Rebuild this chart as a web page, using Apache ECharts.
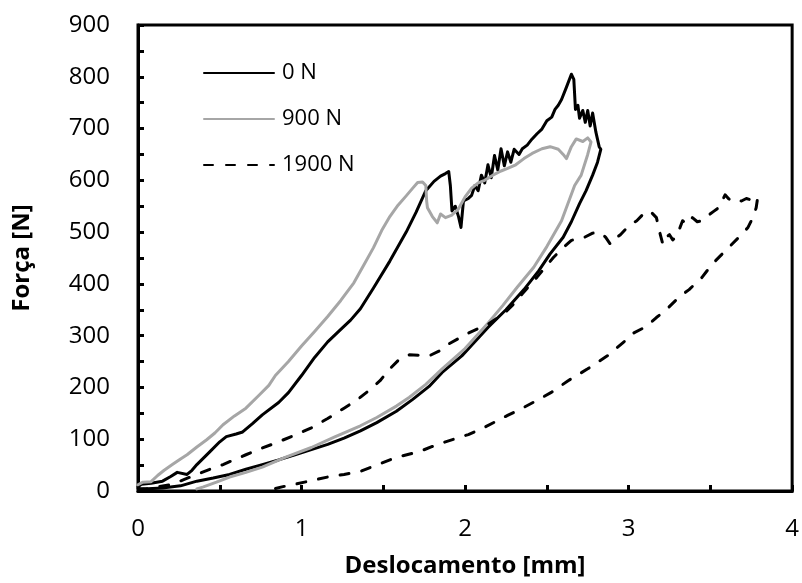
<!DOCTYPE html>
<html>
<head>
<meta charset="utf-8">
<script src="https://cdn.jsdelivr.net/npm/echarts@6/dist/echarts.min.js"></script>
<style>html,body{margin:0;padding:0;background:#fff}#c{width:802px;height:583px}</style>
</head>
<body>
<div id="c"></div>
<script>
// Series names
const seriesNames = ['0 N', '900 N', '1900 N'];
// Axis ticks
const xTicks = [0, 1, 2, 3, 4];
const yTicks = [0, 100, 200, 300, 400, 500, 600, 700, 800, 900];

// 0 N : [deslocamento mm, força N] (loading then unloading)
const data0N = [
  [0.00, 8], [0.02, 13], [0.08, 15], [0.15, 19], [0.20, 28], [0.24, 36], [0.30, 32], [0.33, 40],
  [0.36, 51], [0.44, 76], [0.50, 95], [0.54, 105], [0.60, 110], [0.64, 114], [0.70, 130], [0.76, 147],
  [0.86, 171], [0.92, 190], [1.00, 223], [1.08, 258], [1.16, 288], [1.24, 312], [1.30, 330], [1.36, 352],
  [1.44, 392], [1.54, 444], [1.64, 500], [1.70, 538], [1.76, 580], [1.81, 598], [1.85, 608], [1.88, 613],
  [1.90, 617], [1.91, 590], [1.92, 541], [1.94, 550], [1.96, 530], [1.975, 509], [1.99, 560], [2.02, 565],
  [2.04, 571], [2.06, 590], [2.08, 580], [2.10, 610], [2.12, 595], [2.14, 630], [2.16, 605], [2.18, 648],
  [2.20, 620], [2.22, 661], [2.24, 628], [2.26, 655], [2.28, 635], [2.30, 660], [2.33, 650], [2.35, 661],
  [2.38, 668], [2.41, 680], [2.44, 690], [2.47, 699], [2.50, 715], [2.53, 722], [2.55, 737], [2.57, 745],
  [2.59, 756], [2.62, 780], [2.65, 805], [2.665, 795], [2.675, 737], [2.69, 745], [2.70, 720], [2.72, 735],
  [2.735, 712], [2.75, 735], [2.765, 705], [2.78, 730], [2.80, 693], [2.82, 665], [2.83, 660],
  [2.81, 635], [2.78, 610], [2.74, 580], [2.70, 555], [2.65, 520], [2.60, 490], [2.52, 458], [2.45, 425],
  [2.36, 389], [2.25, 350], [2.14, 316], [2.05, 285], [1.98, 261], [1.86, 229], [1.78, 202], [1.68, 177],
  [1.58, 154], [1.46, 132], [1.36, 116], [1.26, 102], [1.16, 90], [1.06, 80], [0.96, 70], [0.86, 60],
  [0.76, 51], [0.66, 42], [0.56, 32], [0.46, 25], [0.36, 19], [0.26, 10], [0.15, 6], [0.03, 4]
];

// 900 N
const data900N = [
  [0.00, 12], [0.03, 17], [0.08, 18], [0.12, 30], [0.16, 40], [0.21, 51], [0.26, 62], [0.30, 70],
  [0.36, 85], [0.42, 99], [0.47, 112], [0.52, 128], [0.59, 145], [0.66, 160], [0.74, 185], [0.80, 204],
  [0.84, 223], [0.92, 250], [1.00, 280], [1.08, 308], [1.16, 337], [1.24, 368], [1.32, 402], [1.38, 436],
  [1.44, 470], [1.49, 503], [1.54, 530], [1.59, 552], [1.64, 570], [1.68, 585], [1.71, 596], [1.74, 597],
  [1.76, 590], [1.765, 560], [1.77, 547], [1.80, 530], [1.83, 518], [1.85, 535], [1.88, 528], [1.92, 533],
  [1.96, 545], [2.00, 568], [2.04, 585], [2.08, 595], [2.12, 600], [2.17, 610], [2.22, 618], [2.26, 623],
  [2.31, 630], [2.36, 642], [2.41, 652], [2.47, 661], [2.52, 665], [2.57, 660], [2.60, 650], [2.62, 642],
  [2.65, 665], [2.68, 680], [2.72, 675], [2.75, 682], [2.77, 674],
  [2.75, 650], [2.71, 610], [2.67, 590], [2.59, 522], [2.50, 472], [2.42, 432], [2.32, 394], [2.23, 358],
  [2.14, 324], [2.00, 275], [1.86, 236], [1.76, 206], [1.66, 181], [1.58, 164], [1.46, 142], [1.36, 126],
  [1.20, 104], [1.06, 84], [0.90, 65], [0.76, 46], [0.66, 36], [0.56, 27], [0.48, 17], [0.40, 8], [0.36, 4]
];

// 1900 N
const data1900N = [
  [0.00, 5], [0.05, 4], [0.12, 8], [0.21, 13], [0.28, 22], [0.36, 32], [0.44, 42], [0.52, 51],
  [0.60, 62], [0.66, 70], [0.76, 83], [0.86, 95], [0.96, 108], [1.06, 122], [1.16, 140], [1.26, 160],
  [1.34, 176], [1.40, 191], [1.48, 213], [1.54, 236], [1.60, 255], [1.66, 263], [1.72, 262], [1.78, 261],
  [1.84, 270], [1.90, 284], [2.02, 305], [2.14, 322], [2.24, 343], [2.30, 362], [2.35, 381], [2.44, 413],
  [2.54, 451], [2.60, 470], [2.65, 484], [2.73, 490], [2.78, 498], [2.83, 499], [2.86, 490], [2.89, 476],
  [2.92, 488], [2.95, 495], [2.98, 505], [3.01, 514], [3.05, 522], [3.09, 535], [3.13, 541], [3.17, 528],
  [3.19, 500], [3.21, 476], [3.23, 490], [3.25, 495], [3.27, 485], [3.29, 490], [3.31, 505], [3.33, 522],
  [3.36, 515], [3.39, 528], [3.42, 520], [3.45, 522], [3.49, 533], [3.52, 540], [3.55, 547], [3.59, 572],
  [3.61, 565], [3.63, 560], [3.66, 563], [3.69, 560], [3.72, 565], [3.75, 562], [3.79, 568],
  [3.78, 547], [3.76, 528], [3.73, 509], [3.68, 492], [3.63, 476], [3.57, 457], [3.51, 438], [3.45, 413],
  [3.37, 389], [3.31, 375], [3.23, 350], [3.17, 335], [3.11, 318], [3.03, 305], [2.99, 293], [2.87, 261],
  [2.75, 236], [2.63, 213], [2.53, 191], [2.44, 175], [2.35, 160], [2.26, 146], [2.18, 133], [2.10, 120],
  [2.02, 109], [1.88, 95], [1.80, 86], [1.72, 76], [1.58, 65], [1.46, 50], [1.36, 38], [1.26, 32],
  [1.16, 27], [1.06, 20], [0.96, 13], [0.88, 8], [0.82, 3]
];

const FONT = '"Open Sans", "Noto Sans", sans-serif';
const chart = echarts.init(document.getElementById('c'), null, {renderer: 'canvas'});

const axisCommon = {
  axisLine: {show: true, onZero: false, lineStyle: {color: '#000', width: 3}},
  axisTick: {show: true, inside: true, length: 6, lineStyle: {color: '#000', width: 3}},
  minorTick: {show: true, splitNumber: 2, length: 6, lineStyle: {color: '#000', width: 3}},
  splitLine: {show: false},
  minorSplitLine: {show: false}
};

chart.setOption({
  animation: false,
  backgroundColor: '#fff',
  grid: {left: 138, right: 4, top: 25, bottom: 86, show: true, borderColor: '#000', borderWidth: 3, containLabel: false},
  legend: {
    left: 198, top: 55, orient: 'vertical',
    itemWidth: 70, itemHeight: 14, itemGap: 20,
    data: seriesNames,
    itemStyle: {opacity: 0},
    textStyle: {fontFamily: FONT, fontSize: 22, color: '#000', lineHeight: 26, padding: [0, 0, 0, 3]}
  },
  xAxis: Object.assign({
    type: 'value', min: xTicks[0], max: xTicks[xTicks.length - 1], interval: 1,
    name: 'Deslocamento [mm]', nameLocation: 'middle', nameGap: 63,
    nameTextStyle: {fontFamily: FONT, fontSize: 24, fontWeight: 'bold', color: '#000'},
    axisLabel: {fontFamily: FONT, fontSize: 24, color: '#000', margin: 26}
  }, axisCommon),
  yAxis: Object.assign({
    type: 'value', min: yTicks[0], max: yTicks[yTicks.length - 1], interval: 100,
    name: 'Força [N]', nameLocation: 'middle', nameGap: 104,
    nameTextStyle: {fontFamily: FONT, fontSize: 24, fontWeight: 'bold', color: '#000'},
    axisLabel: {fontFamily: FONT, fontSize: 24, color: '#000', margin: 28}
  }, axisCommon),
  series: [
    {name: seriesNames[0], type: 'line', data: data0N, symbol: 'none', smooth: false,
     lineStyle: {color: '#000', width: 3, join: 'round', cap: 'round'}, itemStyle: {color: '#000'}},
    {name: seriesNames[1], type: 'line', data: data900N, symbol: 'none', smooth: false,
     lineStyle: {color: '#A6A6A6', width: 3, join: 'round', cap: 'round'}, itemStyle: {color: '#A6A6A6'}},
    {name: seriesNames[2], type: 'line', data: data1900N, symbol: 'none', smooth: false,
     lineStyle: {color: '#000', width: 3, type: [9, 13], join: 'round', cap: 'round'}, itemStyle: {color: '#000'}}
  ]
});
</script>
</body>
</html>
